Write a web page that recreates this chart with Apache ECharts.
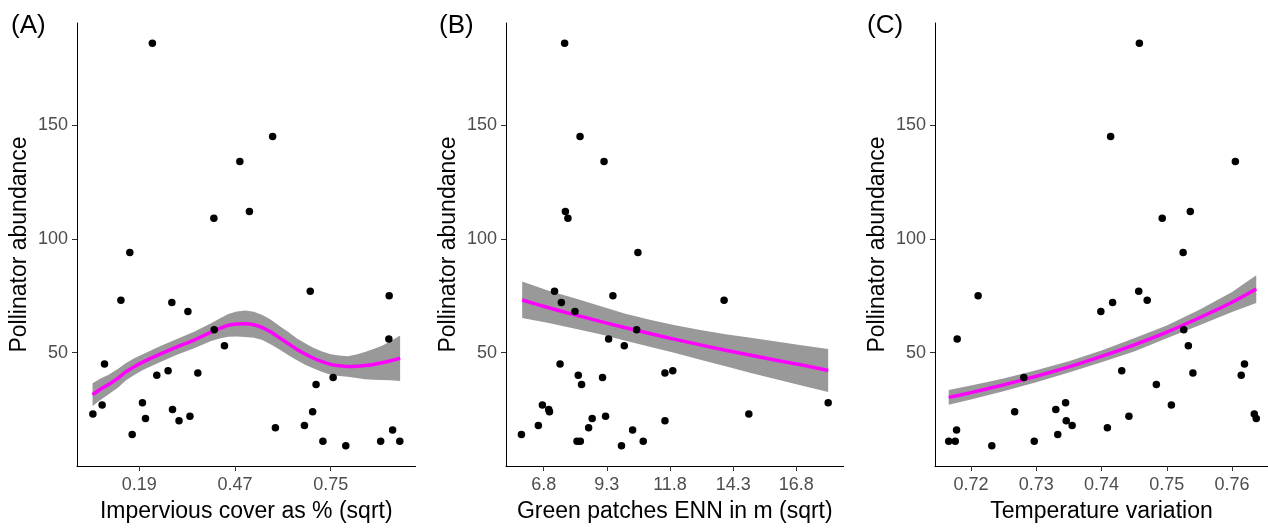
<!DOCTYPE html>
<html>
<head>
<meta charset="utf-8">
<script src="https://cdn.jsdelivr.net/npm/echarts@6/dist/echarts.min.js"></script>
<style>
html,body{margin:0;padding:0;background:#fff;}
#chart{width:1268px;height:528px;}
</style>
</head>
<body>
<div id="chart"></div>
<script>
// ---- Data ----
const abundance = [186,145,134,112,109,94,77,75,73,72,68,60,56,53,45,42,41,40,39,36,28,27,25,24,23,22,21,20,18,17,16,14,11,11,11,9];
const imperviousX = [0.228,0.580,0.484,0.512,0.408,0.162,0.690,0.921,0.136,0.285,0.332,0.409,0.920,0.439,0.088,0.274,0.361,0.241,0.757,0.707,0.199,0.081,0.287,0.697,0.054,0.338,0.208,0.306,0.673,0.588,0.931,0.169,0.727,0.896,0.952,0.794];
const ennX = [7.63,8.24,9.19,7.66,7.76,10.53,7.23,9.54,13.94,7.50,8.04,10.48,9.37,9.99,7.45,11.91,11.60,8.17,9.13,8.30,18.06,6.75,7.00,7.03,14.92,9.25,8.72,11.60,6.59,8.58,10.32,5.92,8.12,8.25,10.74,9.88];
const tempX = [0.7458,0.7414,0.7605,0.7536,0.7493,0.7525,0.7457,0.7211,0.7470,0.7417,0.7399,0.7526,0.7179,0.7533,0.7619,0.7431,0.7540,0.7614,0.7281,0.7484,0.7345,0.7507,0.7330,0.7267,0.7634,0.7442,0.7637,0.7346,0.7355,0.7409,0.7178,0.7333,0.7166,0.7176,0.7297,0.7232];

// fitted curves + confidence bands
const fitA_x  = [0.053,0.075,0.10,0.129,0.15,0.175,0.20,0.25,0.30,0.35,0.40,0.425,0.45,0.475,0.50,0.525,0.55,0.575,0.60,0.625,0.65,0.675,0.70,0.725,0.75,0.775,0.80,0.825,0.85,0.875,0.90,0.925,0.953];
const fitA_y  = [31.5,33.8,36.0,38.9,41.5,43.8,45.8,49.3,52.5,55.5,59.0,60.6,62.0,62.6,62.7,62.2,61.0,59.0,56.5,54.0,51.5,49.4,47.5,46.0,44.8,44.2,43.9,44.0,44.3,44.8,45.5,46.4,47.5];
const fitA_lo = [26.5,29.1,31.7,34.8,37.7,40.1,42.3,45.8,49.0,51.9,55.1,56.2,57.0,57.1,56.9,56.5,55.5,53.6,51.3,48.9,46.7,44.7,43.0,41.5,40.3,39.7,39.4,38.8,38.3,38.1,38.0,37.8,37.5];
const fitA_hi = [36.5,38.5,40.3,43.0,45.3,47.5,49.3,52.8,56.0,59.1,62.9,65.0,67.0,68.1,68.5,67.9,66.5,64.4,61.7,59.1,56.3,54.1,52.0,50.5,49.3,48.7,48.4,49.2,50.3,51.6,53.0,55.0,57.5];

const fitB_x  = [5.95,7,8,9,10,11,12,13,14,15,16,17,18.06];
const fitB_y  = [73.1,69.7,66.7,63.8,61.0,58.4,55.8,53.4,51.0,48.8,46.6,44.6,42.1];
const fitB_lo = [65.2,63.0,60.6,58.2,55.3,52.6,49.8,46.9,44.0,41.0,38.3,35.5,32.7];
const fitB_hi = [81.2,77.2,74.0,70.6,67.2,64.4,62.0,59.9,58.0,56.5,54.9,53.2,51.6];

const fitC_x  = [0.7166,0.72,0.725,0.73,0.735,0.74,0.745,0.75,0.755,0.76,0.7637];
const fitC_y  = [30.3,32.4,35.8,39.6,43.7,48.3,53.4,59.0,65.3,72.1,77.9];
const fitC_lo = [27.1,29.4,33.0,37.0,41.2,45.7,50.5,56.3,62.0,67.8,71.8];
const fitC_hi = [33.6,35.5,38.6,42.2,46.2,50.9,56.3,61.9,68.8,76.6,84.0];

const ticksA = [0.19,0.47,0.75];
const ticksB = [6.8,9.3,11.8,14.3,16.8];
const ticksC = [0.72,0.73,0.74,0.75,0.76];
const ticksY = [50,100,150];

const panelLabels = ['(A)','(B)','(C)'];
const xTitles = ['Impervious cover as % (sqrt)','Green patches ENN in m (sqrt)','Temperature variation'];
const yTitle = 'Pollinator abundance';

// ---- Chart ----
const FONT = '"Liberation Sans", Arial, sans-serif';
const chart = echarts.init(document.getElementById('chart'), null, {renderer:'canvas'});

const grids = [
  {left:77, top:23, width:338.5, height:449},
  {left:506, top:23, width:337.6, height:449},
  {left:935, top:23, width:333, height:449}
];
const xRanges = [[0.0075,0.998],[5.31,18.67],[0.7145,0.7655]];
const xTicks = [ticksA, ticksB, ticksC];

function fmtTick(v, i){
  if (i === 1) return v.toFixed(1);
  return v.toFixed(2);
}

const xAxes = grids.map((g,i)=>({
  type:'value', gridIndex:i, min:xRanges[i][0], max:xRanges[i][1],
  name:xTitles[i], nameLocation:'middle', nameGap:34,
  nameTextStyle:{fontFamily:FONT, fontSize:23, color:'#000'},
  axisLine:{show:true, onZero:false, lineStyle:{color:'#000', width:1}},
  axisTick:{show:true, length:5, customValues:xTicks[i], lineStyle:{color:'#333', width:1}},
  axisLabel:{show:true, margin:10, customValues:xTicks[i], fontFamily:FONT, fontSize:18, color:'#4D4D4D',
    formatter:(v)=>fmtTick(v,i)},
  splitLine:{show:false}
}));
const yAxes = grids.map((g,i)=>({
  type:'value', gridIndex:i, min:0.15, max:194.85,
  name:yTitle, nameLocation:'middle', nameGap:46, nameRotate:90,
  nameTextStyle:{fontFamily:FONT, fontSize:23, color:'#000'},
  axisLine:{show:true, onZero:false, lineStyle:{color:'#000', width:1}},
  axisTick:{show:true, length:5, customValues:ticksY, lineStyle:{color:'#333', width:1}},
  axisLabel:{show:true, margin:9, customValues:ticksY, fontFamily:FONT, fontSize:18, color:'#4D4D4D'},
  splitLine:{show:false}
}));

function band(i, xs, lo, hi){
  return {
    type:'custom', xAxisIndex:i, yAxisIndex:i, silent:true, animation:false, z:1,
    data: xs.map((x,k)=>[x, lo[k], hi[k]]),
    encode:{x:0, y:[1,2]},
    renderItem:(params, api)=>{
      if (params.dataIndex !== 0) return {type:'group', children:[]};
      const pts = [];
      for (let k=0;k<xs.length;k++) pts.push(api.coord([xs[k], hi[k]]));
      for (let k=xs.length-1;k>=0;k--) pts.push(api.coord([xs[k], lo[k]]));
      return {type:'polygon', shape:{points:pts}, style:{fill:'#999999', stroke:null}};
    }
  };
}
function fitLine(i, xs, ys){
  return {
    type:'line', xAxisIndex:i, yAxisIndex:i, silent:true, animation:false, z:2,
    data: xs.map((x,k)=>[x, ys[k]]), smooth:0.2, showSymbol:false,
    lineStyle:{color:'#FF00FF', width:3.5}
  };
}
function pts(i, xs){
  return {
    type:'scatter', xAxisIndex:i, yAxisIndex:i, silent:true, animation:false, z:3,
    data: xs.map((x,k)=>[x, abundance[k]]), symbolSize:7.5,
    itemStyle:{color:'#000', opacity:1}
  };
}

const labelPos = [[11,13],[439,13],[867,13]];

chart.setOption({
  animation:false,
  backgroundColor:'#fff',
  grid:grids,
  xAxis:xAxes,
  yAxis:yAxes,
  graphic: panelLabels.map((t,i)=>({
    type:'text', left:labelPos[i][0], top:labelPos[i][1],
    style:{text:t, fontFamily:FONT, fontSize:26, fill:'#000'}
  })),
  series:[
    band(0, fitA_x, fitA_lo, fitA_hi), fitLine(0, fitA_x, fitA_y), pts(0, imperviousX),
    band(1, fitB_x, fitB_lo, fitB_hi), fitLine(1, fitB_x, fitB_y), pts(1, ennX),
    band(2, fitC_x, fitC_lo, fitC_hi), fitLine(2, fitC_x, fitC_y), pts(2, tempX)
  ]
});
</script>
</body>
</html>
